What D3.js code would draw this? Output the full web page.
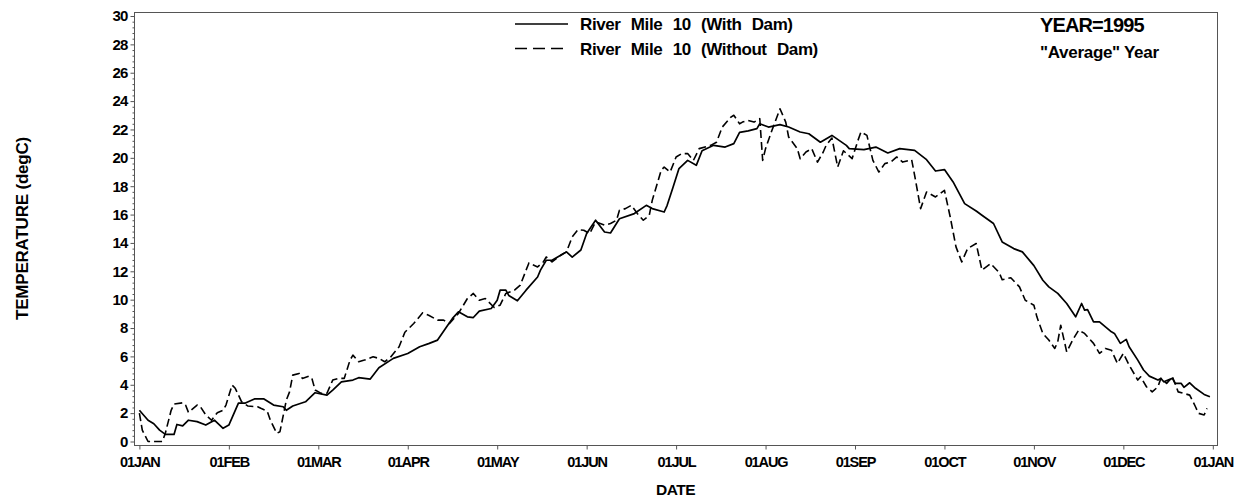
<!DOCTYPE html>
<html>
<head>
<meta charset="utf-8">
<script src="https://cdn.jsdelivr.net/npm/d3@7/dist/d3.min.js"></script>
<style>
  html, body { margin: 0; padding: 0; background: #fff; }
  svg { display: block; }
  text { font-family: "Liberation Sans", Arial, Helvetica, sans-serif; font-weight: bold; fill: #000; }
</style>
</head>
<body>
<svg id="chart" width="1239" height="498"></svg>
<script>
// ---------------- DATA ----------------
const year = 1995;
const seriesNames = ["River Mile 10 (With Dam)", "River Mile 10 (Without Dam)"];
const yTickValues = [0,2,4,6,8,10,12,14,16,18,20,22,24,26,28,30];
const monthTickIndex = [0,1,2,3,4,5,6,7,8,9,10,11,12]; // 01JAN .. 01JAN next year

// day of year (0 = 01JAN) and temperature (degC)
const withDamDay = [0,3,5,7,9,12,13,15,17,20,23,26,29,31,34,36,39,42,45,48,49,51,55,58,62,64,67,71,73,77,80,85,90,94,97,100,103,105,107,110,112,114,118,120,121,123,124,127,130,134,135,137,139,142,144,146,149,151,154,157,159,162,167,171,173,177,178,180,182,185,188,190,194,198,201,203,206,209,210,213,217,220,224,227,231,235,240,241,246,250,254,258,263,267,270,273,276,280,284,286,290,293,297,300,304,307,309,312,315,318,320,321,322,324,326,330,331,333,335,336,339,341,343,346,347,348,351,352,354,355,357,359,362,364];
const withDamTemp = [2.2,1.5,1.25,0.8,0.5,0.5,1.2,1.1,1.5,1.4,1.16,1.5,0.93,1.16,2.7,2.7,3.0,3.0,2.57,2.45,2.2,2.5,2.8,3.44,3.27,3.63,4.2,4.33,4.5,4.4,5.2,5.86,6.2,6.68,6.9,7.15,8.08,8.68,9.14,8.79,8.74,9.19,9.38,9.96,10.67,10.67,10.3,9.92,10.67,11.6,12.08,12.78,12.78,13.13,13.37,13.0,13.5,14.66,15.6,14.77,14.7,15.7,16.07,16.65,16.42,16.18,16.65,17.94,19.24,19.82,19.47,20.5,20.88,20.76,21.0,21.8,21.9,22.06,22.4,22.17,22.34,22.17,21.82,21.7,21.1,21.58,20.88,20.65,20.58,20.76,20.34,20.65,20.53,19.87,19.07,19.17,18.3,16.77,16.25,15.95,15.37,14.07,13.6,13.37,12.4,11.37,10.9,10.44,9.73,8.79,9.73,9.26,9.3,8.44,8.44,7.73,7.62,6.92,7.2,6.68,5.74,5.04,4.61,4.33,4.45,4.21,4.45,4.1,4.1,3.82,4.14,3.75,3.32,3.15];

const withoutDamDay = [0,1,3,8,9,11,12,15,16,17,20,21,23,25,27,29,30,32,33,35,37,40,41,43,44,46,47,49,50,51,53,54,56,57,58,60,62,64,66,68,70,71,73,75,78,80,82,84,87,89,92,95,97,100,102,104,107,110,112,114,116,119,121,123,126,128,130,131,134,136,137,139,142,144,146,148,150,152,154,157,159,161,162,164,166,168,170,172,173,176,177,179,181,183,185,187,189,193,195,197,200,201,203,204,206,208,210,211,212,214,217,219,220,223,224,226,228,230,232,233,235,237,239,242,244,245,247,249,251,253,255,257,259,262,263,265,267,270,273,275,277,279,281,284,286,289,292,293,296,299,301,304,305,307,309,311,312,313,315,317,319,321,324,326,328,330,332,334,336,339,340,342,344,346,347,349,351,353,355,357,359,360,362,363];
const withoutDamTemp = [2.0,0.8,0,0,0.6,2.2,2.64,2.73,2.57,2.05,2.57,2.5,1.87,1.5,2.03,2.2,2.57,3.98,3.75,2.8,2.5,2.45,2.34,2.15,1.5,0.58,0.69,2.92,3.5,4.68,4.8,4.45,4.61,4.45,3.63,3.39,3.4,4.33,4.45,4.45,5.74,6.09,5.62,5.74,5.97,5.86,5.62,5.93,6.68,7.7,8.32,9.07,8.9,8.56,8.56,8.32,9.03,10.08,10.44,9.96,10.08,9.45,9.61,10.44,10.67,11.02,12.08,12.59,12.31,12.66,13.01,12.66,13.13,13.37,14.42,14.94,14.89,14.66,15.48,15.25,15.37,15.6,16.3,16.42,16.65,16.07,15.6,15.95,17.0,19.12,19.35,19.0,20.06,20.3,20.3,19.82,20.65,20.88,21.1,22.17,22.87,23.0,22.4,22.52,22.64,22.52,22.76,19.82,20.65,21.82,23.46,22.52,21.47,20.65,19.94,20.41,20.65,19.7,20.41,20.88,21.4,19.35,20.5,19.94,21.23,21.82,21.58,19.82,19.0,19.59,19.7,20.06,19.7,19.87,18.77,16.42,17.59,17.24,17.71,15.83,13.72,12.66,13.6,13.96,12.08,12.55,11.9,11.4,11.55,10.9,9.96,9.61,8.79,7.62,7.15,6.56,7.03,8.2,6.32,7.15,7.85,7.62,6.92,6.21,6.56,6.44,5.51,6.21,5.39,4.33,4.56,3.86,3.5,3.86,4.45,4.1,4.56,3.5,3.39,3.27,2.45,1.99,1.87,2.34];

// ---------------- LAYOUT ----------------
const frame = { left: 134, right: 1217, top: 12, bottom: 445 };
const xFirst = 139.4, xLast = 1212.8;
const yZero = 441.5, yTop = 16;

const svg = d3.select("#chart");

const monthStarts = monthTickIndex.map(m => new Date(year, m, 1));
const step = (xLast - xFirst) / (monthStarts.length - 1);
const x = d3.scaleTime()
  .domain(monthStarts)
  .range(monthStarts.map((d, i) => xFirst + i * step));
const y = d3.scaleLinear().domain([0, 30]).range([yZero, yTop]);

const toDate = d => new Date(year, 0, 1 + d);
const fmt = d3.timeFormat("%d%b");

// frame
svg.append("rect")
  .attr("x", frame.left + 0.5).attr("y", frame.top + 0.5)
  .attr("width", frame.right - frame.left).attr("height", frame.bottom - frame.top)
  .attr("fill", "none").attr("stroke", "#555").attr("stroke-width", 1);

// y axis
const minorY = d3.range(0, 30.001, 0.4).filter(v => Math.abs(v / 2 - Math.round(v / 2)) > 1e-6);
const yAxisMinor = d3.axisLeft(y).tickValues(minorY).tickSize(2).tickFormat("");
const yAxis = d3.axisLeft(y).tickValues(yTickValues).tickSize(4).tickPadding(3).tickFormat(d3.format("d"));

const gyMinor = svg.append("g").attr("transform", `translate(${frame.left + 0.5},0)`).call(yAxisMinor);
gyMinor.select(".domain").remove();
gyMinor.selectAll("line").attr("stroke", "#555");
const gy = svg.append("g").attr("transform", `translate(${frame.left + 0.5},0)`).call(yAxis);
gy.select(".domain").remove();
gy.selectAll("line").attr("stroke", "#555");
gy.selectAll("text")
  .style("font-family", '"Liberation Sans", Arial, sans-serif')
  .style("font-weight", "bold").style("font-size", "15px")
  .style("letter-spacing", "-0.8px").attr("fill", "#000");

// x axis
const xAxis = d3.axisBottom(x).tickValues(monthStarts).tickSize(4).tickPadding(7)
  .tickFormat(d => fmt(d).toUpperCase());
const gx = svg.append("g").attr("transform", `translate(0,${frame.bottom + 0.5})`).call(xAxis);
gx.select(".domain").remove();
gx.selectAll("line").attr("stroke", "#555");
gx.selectAll("text")
  .style("font-family", '"Liberation Sans", Arial, sans-serif')
  .style("font-weight", "bold").style("font-size", "14.5px")
  .style("letter-spacing", "-1.1px").attr("fill", "#000");

// axis titles
svg.append("text")
  .attr("x", (frame.left + frame.right) / 2).attr("y", 494.5)
  .attr("text-anchor", "middle").style("font-size", "15.5px").style("letter-spacing", "-0.5px")
  .text("DATE");
svg.append("text")
  .attr("transform", `translate(28,${(frame.top + frame.bottom) / 2}) rotate(-90)`)
  .attr("text-anchor", "middle").style("font-size", "17px").style("letter-spacing", "-0.2px")
  .text("TEMPERATURE (degC)");

// lines
const line = d3.line().x(d => x(toDate(d[0]))).y(d => y(d[1]));
const withDam = withDamDay.map((d, i) => [d, withDamTemp[i]]);
const withoutDam = withoutDamDay.map((d, i) => [d, withoutDamTemp[i]]);

svg.append("path").datum(withoutDam).attr("d", line)
  .attr("fill", "none").attr("stroke", "#000").attr("stroke-width", 1.6)
  .attr("stroke-dasharray", "8,4").attr("stroke-linejoin", "round");
svg.append("path").datum(withDam).attr("d", line)
  .attr("fill", "none").attr("stroke", "#000").attr("stroke-width", 1.7)
  .attr("stroke-linejoin", "round");

// legend
const legend = svg.append("g");
[0, 1].forEach(i => {
  const ly = 24 + i * 24.5;
  legend.append("line").attr("x1", 515).attr("x2", 568).attr("y1", ly).attr("y2", ly)
    .attr("stroke", "#000").attr("stroke-width", 1.5)
    .attr("stroke-dasharray", i === 1 ? "12,6" : null);
  legend.append("text").attr("x", 580).attr("y", ly + 6)
    .style("font-size", "17px").style("letter-spacing", "-0.4px").style("word-spacing", "6px")
    .text(seriesNames[i]);
});

// annotation
svg.append("text").attr("x", 1040).attr("y", 32).style("font-size", "20px").style("letter-spacing", "-0.9px")
  .text("YEAR=" + year);
svg.append("text").attr("x", 1040).attr("y", 58).style("font-size", "17px").style("letter-spacing", "-0.3px")
  .text('"Average" Year');
</script>
</body>
</html>
